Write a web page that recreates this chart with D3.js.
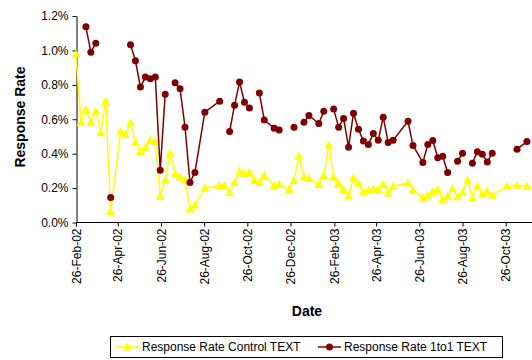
<!DOCTYPE html>
<html>
<head>
<meta charset="utf-8">
<script src="https://cdn.jsdelivr.net/npm/d3@7"></script>
<style>
  html, body { margin: 0; padding: 0; background: #fff; }
  svg { display: block; font-family: "Liberation Sans", Arial, sans-serif; }
</style>
</head>
<body>
<svg id="chart" width="532" height="360"></svg>
<script>
// Weekly reporting dates
const dates = [
  "2002-02-26","2002-03-05","2002-03-12","2002-03-19","2002-03-26","2002-04-02","2002-04-09","2002-04-16",
  "2002-04-30","2002-05-07","2002-05-14","2002-05-21","2002-05-28","2002-06-04","2002-06-11","2002-06-18",
  "2002-06-25","2002-07-02","2002-07-09","2002-07-16","2002-07-23","2002-07-30","2002-08-06","2002-08-13",
  "2002-08-27","2002-09-17","2002-09-24","2002-10-01","2002-10-08","2002-10-15","2002-10-22","2002-10-29",
  "2002-11-05","2002-11-12","2002-11-19","2002-12-03","2002-12-10","2002-12-24","2002-12-31","2003-01-07",
  "2003-01-14","2003-01-21","2003-02-04","2003-02-11","2003-02-18","2003-02-25","2003-03-04","2003-03-11",
  "2003-03-18","2003-03-25","2003-04-01","2003-04-08","2003-04-15","2003-04-22","2003-04-29","2003-05-06",
  "2003-05-13","2003-05-20","2003-06-10","2003-06-17","2003-07-01","2003-07-08","2003-07-15","2003-07-22",
  "2003-07-29","2003-08-05","2003-08-12","2003-08-19","2003-08-26","2003-09-02","2003-09-09","2003-09-16",
  "2003-09-23","2003-09-30","2003-10-07","2003-10-28","2003-11-11","2003-11-25"
];

// Response rate, Control TEXT (%)
const controlRate = [
  0.977,0.581,0.657,0.581,0.647,0.521,0.705,0.064,
  0.527,0.512,0.579,0.465,0.413,0.438,0.478,0.471,
  0.153,0.246,0.401,0.285,0.265,0.250,0.079,0.101,
  0.201,0.215,0.215,0.174,0.233,0.300,0.285,0.291,
  0.246,0.233,0.273,0.213,0.221,0.192,0.244,0.385,
  0.265,0.256,0.221,0.271,0.449,0.263,0.227,0.192,
  0.155,0.259,0.228,0.178,0.188,0.194,0.192,0.223,
  0.172,0.211,0.230,0.188,0.145,0.159,0.178,0.192,
  0.134,0.153,0.198,0.149,0.176,0.246,0.143,0.211,
  0.163,0.182,0.159,0.211,0.217,0.210
];

// Response rate, 1to1 TEXT (%); null = no figure that week
const oneToOneRate = [
  null,null,1.137,0.990,1.042,null,null,0.145,
  null,null,1.033,0.940,0.787,0.845,0.835,0.845,
  0.304,0.746,null,0.812,0.777,0.554,0.233,0.291,
  0.641,0.705,null,0.529,0.682,0.816,0.699,0.665,
  null,0.752,0.595,0.548,0.537,null,0.554,null,
  0.582,0.622,0.575,0.647,null,0.659,0.554,0.605,
  0.438,0.635,0.542,0.473,0.453,0.517,0.478,0.612,
  0.465,0.478,0.588,0.448,0.349,0.453,0.477,0.376,
  0.385,0.291,null,0.356,0.403,null,0.345,0.411,
  0.397,0.351,0.403,null,0.426,0.470
];

const yTicks = [0, 0.2, 0.4, 0.6, 0.8, 1.0, 1.2];
const xTickDates = ["2002-02-26","2002-04-26","2002-06-26","2002-08-26","2002-10-26","2002-12-26",
                    "2003-02-26","2003-04-26","2003-06-26","2003-08-26","2003-10-26"];

const seriesNames = ["Response Rate Control TEXT", "Response Rate 1to1 TEXT"];
const yellow = "#FFFF00", maroon = "#800000";

const parse = d3.utcParse("%Y-%m-%d");
const fmt = d3.utcFormat("%d-%b-%y");

const svg = d3.select("#chart");

const x = d3.scaleUtc()
  .domain([parse("2002-02-26"), parse("2003-10-26")])
  .range([76, 505.7]);
const y = d3.scaleLinear().domain([0, 1.2]).range([222.5, 16]);

const rows = dates.map((d, i) => ({ date: parse(d), c: controlRate[i], o: oneToOneRate[i] }));

// Axes
const xAxis = d3.axisBottom(x)
  .tickValues(xTickDates.map(parse))
  .tickFormat(fmt)
  .tickSize(4)
  .tickSizeOuter(0);
const gx = svg.append("g").attr("transform", "translate(0,222.5)").call(xAxis);
gx.select(".domain").attr("d", "M76.5,0H540");
gx.selectAll(".tick line").attr("stroke", "#000");
gx.selectAll(".tick text")
  .attr("font-size", 12)
  .attr("fill", "#000")
  .attr("text-anchor", "end")
  .attr("transform", "translate(0,6) rotate(-90)")
  .attr("x", 0).attr("y", 0).attr("dy", "0.35em");

const yAxis = d3.axisLeft(y)
  .tickValues(yTicks)
  .tickFormat(d => d.toFixed(1) + "%")
  .tickSize(4)
  .tickSizeOuter(0);
const gy = svg.append("g").attr("transform", "translate(76.5,0)").call(yAxis);
gy.selectAll(".tick text").attr("font-size", 12).attr("fill", "#000").attr("x", -8);
gy.selectAll("path, line").attr("stroke", "#000");

// Axis titles
svg.append("text")
  .attr("x", 307).attr("y", 316)
  .attr("text-anchor", "middle")
  .attr("font-size", 14).attr("font-weight", "bold")
  .text("Date");
svg.append("text")
  .attr("transform", "translate(25,117) rotate(-90)")
  .attr("text-anchor", "middle")
  .attr("font-size", 14).attr("font-weight", "bold")
  .text("Response Rate");

// Series lines
const lineC = d3.line().x(d => x(d.date)).y(d => y(d.c));
const lineO = d3.line().defined(d => d.o != null).x(d => x(d.date)).y(d => y(d.o));

const triangle = "M0,-4.5L4.5,3.5L-4.5,3.5Z";

svg.append("path").datum(rows)
  .attr("d", lineC).attr("fill", "none")
  .attr("stroke", yellow).attr("stroke-width", 1.5);
svg.append("g").selectAll("path").data(rows).join("path")
  .attr("d", triangle)
  .attr("transform", d => `translate(${x(d.date)},${y(d.c)})`)
  .attr("fill", yellow);

svg.append("path").datum(rows)
  .attr("d", lineO).attr("fill", "none")
  .attr("stroke", maroon).attr("stroke-width", 1.5);
svg.append("g").selectAll("circle").data(rows.filter(d => d.o != null)).join("circle")
  .attr("cx", d => x(d.date)).attr("cy", d => y(d.o))
  .attr("r", 3.5).attr("fill", maroon);

// Legend
const lg = svg.append("g");
lg.append("rect")
  .attr("x", 110.5).attr("y", 336.5).attr("width", 392).attr("height", 21)
  .attr("fill", "#fff").attr("stroke", "#000");
const items = [
  { name: seriesNames[0], color: yellow, x0: 116, marker: "tri" },
  { name: seriesNames[1], color: maroon, x0: 318, marker: "dot" }
];
items.forEach(it => {
  const cy = 347;
  lg.append("line").attr("x1", it.x0).attr("x2", it.x0 + 23)
    .attr("y1", cy).attr("y2", cy).attr("stroke", it.color).attr("stroke-width", 1.5);
  if (it.marker === "tri") {
    lg.append("path").attr("d", triangle)
      .attr("transform", `translate(${it.x0 + 11.5},${cy})`).attr("fill", it.color);
  } else {
    lg.append("circle").attr("cx", it.x0 + 11.5).attr("cy", cy).attr("r", 3.5).attr("fill", it.color);
  }
  lg.append("text").attr("x", it.x0 + 26).attr("y", cy).attr("dy", "0.35em")
    .attr("font-size", 12).text(it.name);
});
</script>
</body>
</html>
